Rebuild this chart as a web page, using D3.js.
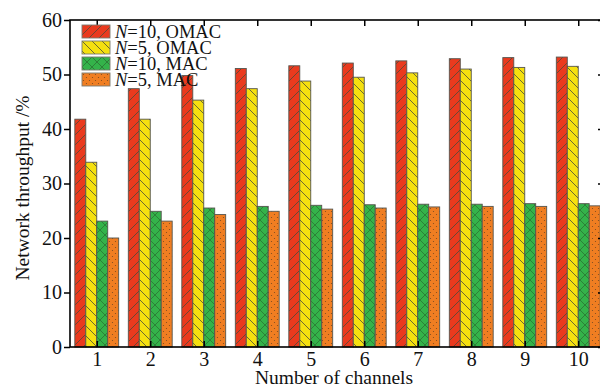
<!DOCTYPE html>
<html>
<head>
<meta charset="utf-8">
<script src="https://cdn.jsdelivr.net/npm/d3@7/dist/d3.min.js"></script>
<style>
  body { margin: 0; background: #fff; }
  text { font-family: "Liberation Serif", "Times New Roman", serif; fill: #111; }
</style>
</head>
<body>
<div id="chart"></div>
<script>
// Data
const channels = [1, 2, 3, 4, 5, 6, 7, 8, 9, 10];
const omacN10 = [41.8, 47.4, 49.8, 51.1, 51.6, 52.1, 52.5, 52.9, 53.1, 53.2];
const omacN5  = [33.9, 41.8, 45.3, 47.4, 48.8, 49.5, 50.3, 51.0, 51.3, 51.5];
const macN10  = [23.1, 24.9, 25.5, 25.8, 26.0, 26.1, 26.2, 26.2, 26.3, 26.3];
const macN5   = [20.0, 23.1, 24.3, 24.9, 25.3, 25.5, 25.7, 25.8, 25.8, 25.9];
const seriesLabels = ["=10, OMAC", "=5, OMAC", "=10, MAC", "=5, MAC"];
const yTicks = [0, 10, 20, 30, 40, 50, 60];

const series = [omacN10, omacN5, macN10, macN5];
const colors = ["#ea3a1e", "#f5e00f", "#34b34a", "#f07e22"];
const patternIds = ["hatch-fwd", "hatch-back", "hatch-cross", "dots"];

const width = 600, height = 387;
const plot = { left: 70, top: 20, right: 605, bottom: 347 };

const svg = d3.select('#chart').append('svg')
    .attr('width', width)
    .attr('height', height);

// Patterns
const defs = svg.append('defs');
function addPattern(id, color, draw) {
    const p = defs.append('pattern')
        .attr('id', id)
        .attr('patternUnits', 'userSpaceOnUse')
        .attr('width', 10)
        .attr('height', 10);
    p.append('rect').attr('width', 10).attr('height', 10).attr('fill', color);
    draw(p);
}
const hatchStroke = '#4a4a3a';
addPattern(patternIds[0], colors[0], p => {
    p.append('path').attr('d', 'M-1,11 L11,-1 M-1,1 L1,-1 M9,11 L11,9')
        .attr('stroke', hatchStroke).attr('stroke-width', 0.8);
});
addPattern(patternIds[1], colors[1], p => {
    p.append('path').attr('d', 'M-1,-1 L11,11 M-1,9 L1,11 M9,-1 L11,1')
        .attr('stroke', hatchStroke).attr('stroke-width', 0.8);
});
addPattern(patternIds[2], colors[2], p => {
    p.append('path').attr('d', 'M-1,11 L11,-1 M-1,-1 L11,11')
        .attr('stroke', '#2a6a30').attr('stroke-width', 0.7);
});
defs.append('pattern')
    .attr('id', patternIds[3])
    .attr('patternUnits', 'userSpaceOnUse')
    .attr('width', 6).attr('height', 6)
    .call(p => {
        p.append('rect').attr('width', 6).attr('height', 6).attr('fill', colors[3]);
        p.append('circle').attr('cx', 1.5).attr('cy', 1.5).attr('r', 0.6).attr('fill', '#7a4a20');
        p.append('circle').attr('cx', 4.5).attr('cy', 4.5).attr('r', 0.6).attr('fill', '#7a4a20');
    });

// Scales
const x = d3.scaleLinear().domain([0.5, 10.5]).range([plot.left, plot.right]);
const y = d3.scaleLinear().domain([0, 60]).range([plot.bottom, plot.top]);

const unit = x(1) - x(0);
const barW = unit * 0.205;
const groupW = barW * series.length;

// Bars
series.forEach((vals, s) => {
    svg.append('g').selectAll('rect')
        .data(vals)
        .enter()
        .append('rect')
        .attr('x', (d, i) => x(channels[i]) - groupW / 2 + s * barW)
        .attr('y', d => y(d))
        .attr('width', barW)
        .attr('height', d => y(0) - y(d))
        .attr('fill', `url(#${patternIds[s]})`)
        .attr('stroke', '#55554e')
        .attr('stroke-width', 0.9);
});

// Frame
svg.append('rect')
    .attr('x', plot.left).attr('y', plot.top)
    .attr('width', plot.right - plot.left)
    .attr('height', plot.bottom - plot.top)
    .attr('fill', 'none')
    .attr('stroke', '#000')
    .attr('stroke-width', 1.6);

// Axes
const yAxis = svg.append('g')
    .attr('transform', `translate(${plot.left},0)`)
    .call(d3.axisLeft(y).tickValues(yTicks).tickSize(6).tickPadding(2));

const yAxisRight = svg.append('g')
    .attr('transform', `translate(${plot.right},0)`)
    .call(d3.axisRight(y).tickValues(yTicks).tickSize(-7).tickFormat(''));

const xAxis = svg.append('g')
    .attr('transform', `translate(0,${plot.bottom})`)
    .call(d3.axisBottom(x).tickValues(channels).tickSize(-6).tickPadding(5).tickFormat(d3.format('d')));

const xAxisTop = svg.append('g')
    .attr('transform', `translate(0,${plot.top})`)
    .call(d3.axisTop(x).tickValues(channels).tickSize(-6).tickFormat(''));

[yAxis, yAxisRight, xAxis, xAxisTop].forEach(a => {
    a.select('.domain').remove();
    a.selectAll('line').attr('stroke', '#000').attr('stroke-width', 1.5);
    a.selectAll('text')
        .style('font-family', '"Liberation Serif", serif')
        .style('font-size', '20px')
        .attr('fill', '#111');
});

// Axis titles
svg.append('text')
    .attr('x', 334)
    .attr('y', 384)
    .attr('text-anchor', 'middle')
    .style('font-size', '19.5px')
    .text('Number of channels');

svg.append('text')
    .attr('transform', 'rotate(-90)')
    .attr('x', -188)
    .attr('y', 29)
    .attr('text-anchor', 'middle')
    .style('font-size', '19.5px')
    .text('Network throughput /%');

// Legend
const legend = svg.append('g').attr('transform', 'translate(82,25)');
seriesLabels.forEach((label, i) => {
    const row = legend.append('g').attr('transform', `translate(0,${i * 16})`);
    row.append('rect')
        .attr('width', 28).attr('height', 13)
        .attr('fill', `url(#${patternIds[i]})`)
        .attr('stroke', '#7a7a70')
        .attr('stroke-width', 0.9);
    const t = row.append('text')
        .attr('x', 33).attr('y', 12.5)
        .style('font-size', '18.5px')
        .text(null);
    t.append('tspan').style('font-style', 'italic').text('N');
    t.append('tspan').text(label);
});
</script>
</body>
</html>
